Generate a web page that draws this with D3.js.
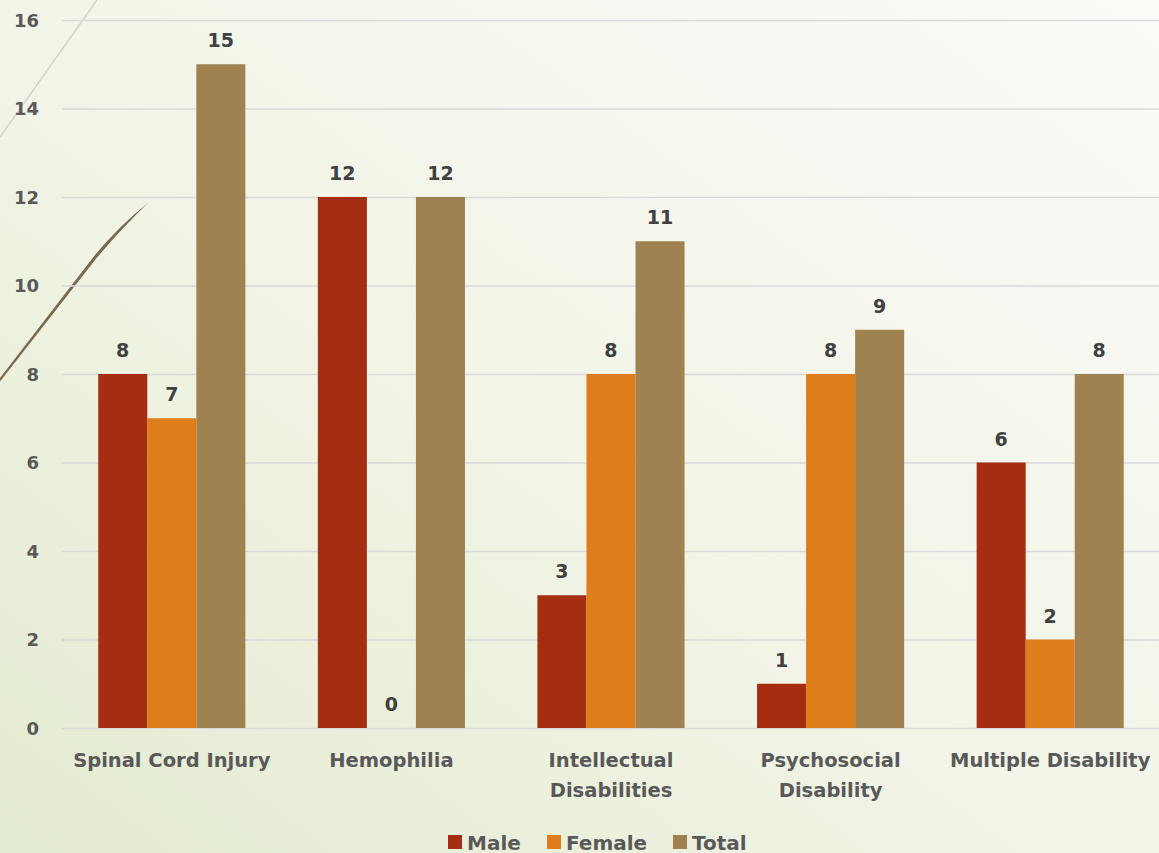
<!DOCTYPE html>
<html>
<head>
<meta charset="utf-8">
<script src="https://cdn.jsdelivr.net/npm/d3@7"></script>
<style>
  body { margin: 0; overflow: hidden; }
  svg { display: block; }
</style>
</head>
<body>
<script>
// chart data
var categories = ["Spinal Cord Injury", "Hemophilia", "Intellectual Disabilities", "Psychosocial Disability", "Multiple Disability"];
var catLines = [["Spinal Cord Injury"], ["Hemophilia"], ["Intellectual", "Disabilities"], ["Psychosocial", "Disability"], ["Multiple Disability"]];
var seriesNames = ["Male", "Female", "Total"];
var male = [8, 12, 3, 1, 6];
var female = [7, 0, 8, 8, 2];
var total = [15, 12, 11, 9, 8];
var yTicks = [0, 2, 4, 6, 8, 10, 12, 14, 16];

var W = 1159, H = 853;
var plotLeft = 62, plotRight = 1160, plotTop = 20, plotBottom = 728;
var font = "'Century Gothic', 'DejaVu Sans', sans-serif";

var color = d3.scaleOrdinal().domain(seriesNames).range(["#A52E12", "#DF7D1A", "#9F8250"]);

var svg = d3.select("body").append("svg")
    .attr("width", W)
    .attr("height", H);

// background gradient
var defs = svg.append("defs");
var grad = defs.append("linearGradient")
    .attr("id", "bg")
    .attr("x1", "0%").attr("y1", "100%")
    .attr("x2", "100%").attr("y2", "0%");
grad.append("stop").attr("offset", "0%").attr("stop-color", "#e3ebd0");
grad.append("stop").attr("offset", "45%").attr("stop-color", "#f1f4e6");
grad.append("stop").attr("offset", "100%").attr("stop-color", "#fbfbf8");
svg.append("rect").attr("width", W).attr("height", H).attr("fill", "url(#bg)");

// decorative lines on the left
svg.append("path")
    .attr("d", "M97,0 L0,137")
    .attr("stroke", "#d3d5c4").attr("stroke-width", 1.5).attr("fill", "none");
svg.append("path")
    .attr("d", "M148,203 Q120,225 95,255 L0,378 L0,381.5 L97,257.5 Q122,228 148,203 Z")
    .attr("fill", "#7a6a4c");

var x0 = d3.scaleBand()
    .domain(categories)
    .range([plotLeft, plotRight])
    .paddingInner(0.33)
    .paddingOuter(0.165);

var x1 = d3.scaleBand()
    .domain(seriesNames)
    .range([0, x0.bandwidth()]);

var y = d3.scaleLinear()
    .domain([0, 16])
    .range([plotBottom, plotTop]);

// gridlines
var yAxis = d3.axisLeft(y)
    .tickValues(yTicks)
    .tickSize(-(W - plotLeft))
    .tickFormat(d3.format("d"));

var gy = svg.append("g")
    .attr("transform", "translate(" + plotLeft + ",0)")
    .call(yAxis);
gy.select(".domain").remove();
gy.selectAll(".tick line")
    .attr("stroke", "#d9d9d9")
    .attr("stroke-width", 1.5);
gy.selectAll(".tick text")
    .attr("x", -23)
    .attr("dy", "0.36em")
    .style("font-family", font)
    .style("font-size", "18px")
    .style("font-weight", "bold")
    .attr("fill", "#595959");

var rows = categories.map(function(c, i) {
  return { cat: c, i: i, values: [male[i], female[i], total[i]] };
});

var groups = svg.selectAll(".grp")
    .data(rows)
  .enter().append("g")
    .attr("class", "grp")
    .attr("transform", function(d) { return "translate(" + x0(d.cat) + ",0)"; });

var bars = groups.selectAll(".bar")
    .data(function(d) { return seriesNames.map(function(s, k) { return { s: s, v: d.values[k] }; }); })
  .enter();

bars.append("rect")
    .attr("x", function(d) { return x1(d.s); })
    .attr("y", function(d) { return y(d.v); })
    .attr("width", x1.bandwidth())
    .attr("height", function(d) { return y(0) - y(d.v); })
    .attr("fill", function(d) { return color(d.s); });

bars.append("text")
    .attr("x", function(d) { return x1(d.s) + x1.bandwidth() / 2; })
    .attr("y", function(d) { return y(d.v) - 17; })
    .attr("text-anchor", "middle")
    .style("font-family", font)
    .style("font-size", "19px")
    .style("font-weight", "bold")
    .attr("fill", "#404040")
    .text(function(d) { return d.v; });

// category labels
var catText = svg.selectAll(".cat")
    .data(rows)
  .enter().append("text")
    .attr("class", "cat")
    .attr("y", 767)
    .attr("text-anchor", "middle")
    .style("font-family", font)
    .style("font-size", "19.5px")
    .style("font-weight", "bold")
    .attr("fill", "#595959");

catText.selectAll("tspan")
    .data(function(d) { return catLines[d.i].map(function(t) { return { t: t, cat: d.cat }; }); })
  .enter().append("tspan")
    .attr("x", function(d) { return x0(d.cat) + x0.bandwidth() / 2; })
    .attr("dy", function(d, k) { return k === 0 ? 0 : 30; })
    .text(function(d) { return d.t; });

// legend
var legendX = [448, 547, 673];
var lg = svg.selectAll(".lg")
    .data(seriesNames)
  .enter().append("g")
    .attr("class", "lg")
    .attr("transform", function(d, i) { return "translate(" + legendX[i] + ",835)"; });
lg.append("rect")
    .attr("width", 14).attr("height", 14)
    .attr("fill", function(d) { return color(d); });
lg.append("text")
    .attr("x", 19)
    .attr("y", 15)
    .style("font-family", font)
    .style("font-size", "20px")
    .style("font-weight", "bold")
    .attr("fill", "#595959")
    .text(function(d) { return d; });
</script>
</body>
</html>
